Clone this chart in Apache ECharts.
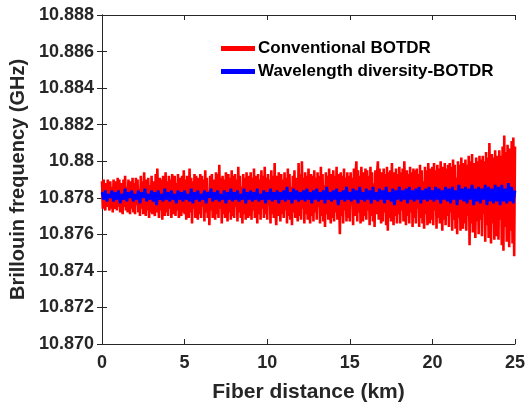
<!DOCTYPE html>
<html>
<head>
<meta charset="utf-8">
<script src="https://cdn.jsdelivr.net/npm/echarts@6/dist/echarts.min.js"></script>
<style>
html,body{margin:0;padding:0;background:#fff;}
#chart{width:528px;height:408px;}
</style>
</head>
<body>
<div id="chart"></div>
<script>
// Sampling grids (km)
const conventionalStep = 0.05;
const diversityStep = 0.1;
const seriesNames = ['Conventional BOTDR', 'Wavelength diversity-BOTDR'];
const xTickLabels = ['0', '5', '10', '15', '20', '25'];
const yTickLabels = ['10.870', '10.872', '10.874', '10.876', '10.878', '10.88', '10.882', '10.884', '10.886', '10.888'];

// Conventional BOTDR (GHz), one value per 0.05 km
const conventional = [
10.8789,10.8774,10.8790,10.8776,10.8773,10.8788,10.8775,10.8790,10.8779,10.8773,10.8789,10.8774,10.8786,10.8772,10.8790,10.8777,10.8774,10.8789,10.8773,10.8791,
10.8775,10.8790,10.8772,10.8788,10.8781,10.8771,10.8790,10.8775,10.8792,10.8773,10.8786,10.8772,10.8790,10.8778,10.8771,10.8789,10.8774,10.8791,10.8772,10.8788,
10.8771,10.8791,10.8776,10.8790,10.8772,10.8785,10.8770,10.8792,10.8774,10.8789,10.8771,10.8794,10.8779,10.8770,10.8790,10.8773,10.8791,10.8769,10.8787,10.8772,
10.8792,10.8771,10.8789,10.8775,10.8770,10.8793,10.8772,10.8796,10.8777,10.8769,10.8791,10.8773,10.8790,10.8768,10.8792,10.8782,10.8770,10.8794,10.8772,10.8789,
10.8770,10.8792,10.8774,10.8790,10.8769,10.8793,10.8779,10.8771,10.8792,10.8770,10.8788,10.8773,10.8793,10.8769,10.8791,10.8776,10.8770,10.8792,10.8772,10.8795,
10.8771,10.8790,10.8768,10.8792,10.8776,10.8769,10.8796,10.8772,10.8791,10.8766,10.8789,10.8774,10.8793,10.8769,10.8792,10.8780,10.8768,10.8791,10.8771,10.8793,
10.8769,10.8792,10.8775,10.8790,10.8767,10.8795,10.8772,10.8791,10.8769,10.8784,10.8765,10.8792,10.8773,10.8793,10.8769,10.8790,10.8776,10.8768,10.8794,10.8771,
10.8793,10.8769,10.8798,10.8774,10.8791,10.8766,10.8792,10.8771,10.8790,10.8769,10.8794,10.8779,10.8767,10.8793,10.8772,10.8791,10.8768,10.8795,10.8770,10.8792,
10.8769,10.8793,10.8775,10.8790,10.8767,10.8797,10.8772,10.8792,10.8769,10.8786,10.8766,10.8793,10.8771,10.8791,10.8768,10.8794,10.8777,10.8769,10.8792,10.8770,
10.8794,10.8768,10.8791,10.8773,10.8796,10.8769,10.8792,10.8782,10.8766,10.8793,10.8771,10.8790,10.8768,10.8795,10.8774,10.8792,10.8769,10.8797,10.8771,10.8791,
10.8768,10.8793,10.8776,10.8790,10.8766,10.8795,10.8771,10.8792,10.8769,10.8799,10.8773,10.8765,10.8792,10.8770,10.8794,10.8780,10.8767,10.8793,10.8771,10.8790,
10.8769,10.8794,10.8773,10.8791,10.8766,10.8796,10.8770,10.8793,10.8768,10.8786,10.8765,10.8792,10.8772,10.8795,10.8769,10.8791,10.8775,10.8767,10.8799,10.8770,
10.8793,10.8768,10.8800,10.8774,10.8791,10.8766,10.8794,10.8771,10.8792,10.8768,10.8796,10.8781,10.8766,10.8793,10.8770,10.8792,10.8767,10.8795,10.8772,10.8791,
10.8768,10.8794,10.8775,10.8792,10.8766,10.8797,10.8770,10.8793,10.8767,10.8787,10.8764,10.8794,10.8771,10.8792,10.8768,10.8796,10.8773,10.8766,10.8793,10.8769,
10.8795,10.8767,10.8792,10.8772,10.8797,10.8768,10.8793,10.8779,10.8760,10.8794,10.8770,10.8792,10.8766,10.8796,10.8773,10.8791,10.8767,10.8794,10.8769,10.8792,
10.8767,10.8794,10.8776,10.8791,10.8765,10.8796,10.8770,10.8793,10.8800,10.8767,10.8795,10.8772,10.8792,10.8766,10.8797,10.8781,10.8767,10.8794,10.8770,10.8796,
10.8768,10.8795,10.8773,10.8792,10.8765,10.8797,10.8770,10.8794,10.8767,10.8788,10.8764,10.8795,10.8771,10.8793,10.8800,10.8768,10.8796,10.8774,10.8766,10.8794,
10.8767,10.8796,10.8772,10.8793,10.8765,10.8797,10.8762,10.8794,10.8769,10.8795,10.8767,10.8799,10.8775,10.8765,10.8794,10.8770,10.8796,10.8766,10.8793,10.8771,
10.8797,10.8766,10.8794,10.8773,10.8796,10.8767,10.8800,10.8781,10.8765,10.8795,10.8770,10.8793,10.8766,10.8797,10.8772,10.8794,10.8764,10.8796,10.8769,10.8795,
10.8766,10.8796,10.8774,10.8793,10.8764,10.8798,10.8769,10.8795,10.8766,10.8789,10.8763,10.8797,10.8771,10.8795,10.8765,10.8799,10.8774,10.8766,10.8796,10.8768,
10.8797,10.8765,10.8799,10.8773,10.8795,10.8763,10.8798,10.8769,10.8796,10.8766,10.8800,10.8782,10.8762,10.8797,10.8768,10.8799,10.8765,10.8796,10.8770,10.8798,
10.8764,10.8799,10.8772,10.8797,10.8762,10.8801,10.8768,10.8798,10.8763,10.8791,10.8760,10.8800,10.8769,10.8798,10.8762,10.8802,10.8775,10.8763,10.8799,10.8766,
10.8801,10.8762,10.8798,10.8770,10.8803,10.8754,10.8800,10.8766,10.8804,10.8761,10.8799,10.8784,10.8758,10.8802,10.8767,10.8800,10.8760,10.8803,10.8768,10.8801,
10.8759,10.8803,10.8771,10.8800,10.8756,10.8805,10.8765,10.8802,10.8758,10.8810,10.8776,10.8755,10.8804,10.8766,10.8802,10.8757,10.8806,10.8770,10.8759,10.8803,
10.8757,10.8806,10.8768,10.8803,10.8754,10.8808,10.8751,10.8814,10.8764,10.8805,10.8756,10.8809,10.8786,10.8753,10.8807,10.8762,10.8811,10.8755,10.8813,10.8748,
10.8808
];

// Wavelength diversity-BOTDR (GHz), one value per 0.1 km
const diversity = [
10.8783,10.8779,10.8784,10.8778,10.8782,10.8780,10.8784,10.8778,10.8783,10.8779,
10.8784,10.8777,10.8782,10.8779,10.8785,10.8778,10.8783,10.8780,10.8784,10.8778,
10.8782,10.8779,10.8784,10.8777,10.8783,10.8780,10.8785,10.8778,10.8782,10.8779,
10.8784,10.8778,10.8783,10.8776,10.8784,10.8779,10.8782,10.8778,10.8785,10.8779,
10.8783,10.8778,10.8784,10.8779,10.8782,10.8777,10.8784,10.8779,10.8783,10.8778,
10.8784,10.8779,10.8782,10.8778,10.8785,10.8777,10.8783,10.8779,10.8784,10.8778,
10.8782,10.8779,10.8784,10.8777,10.8783,10.8780,10.8785,10.8778,10.8783,10.8779,
10.8784,10.8778,10.8782,10.8779,10.8784,10.8777,10.8783,10.8779,10.8785,10.8778,
10.8783,10.8779,10.8784,10.8778,10.8782,10.8779,10.8785,10.8777,10.8783,10.8779,
10.8784,10.8778,10.8783,10.8779,10.8785,10.8778,10.8782,10.8779,10.8784,10.8777,
10.8783,10.8779,10.8785,10.8778,10.8783,10.8779,10.8784,10.8777,10.8783,10.8779,
10.8784,10.8778,10.8786,10.8779,10.8783,10.8777,10.8785,10.8779,10.8784,10.8778,
10.8783,10.8779,10.8784,10.8778,10.8785,10.8779,10.8783,10.8777,10.8784,10.8779,
10.8785,10.8778,10.8783,10.8779,10.8784,10.8777,10.8786,10.8779,10.8783,10.8778,
10.8784,10.8779,10.8785,10.8776,10.8783,10.8779,10.8784,10.8778,10.8786,10.8779,
10.8783,10.8778,10.8785,10.8779,10.8784,10.8777,10.8786,10.8779,10.8783,10.8778,
10.8785,10.8779,10.8784,10.8777,10.8786,10.8779,10.8783,10.8778,10.8785,10.8779,
10.8784,10.8777,10.8786,10.8779,10.8783,10.8778,10.8785,10.8776,10.8784,10.8779,
10.8786,10.8778,10.8784,10.8779,10.8785,10.8777,10.8786,10.8779,10.8784,10.8778,
10.8785,10.8779,10.8786,10.8777,10.8784,10.8779,10.8785,10.8778,10.8786,10.8779,
10.8784,10.8778,10.8786,10.8779,10.8785,10.8777,10.8784,10.8779,10.8786,10.8778,
10.8785,10.8777,10.8786,10.8779,10.8784,10.8776,10.8787,10.8779,10.8785,10.8778,
10.8786,10.8777,10.8785,10.8779,10.8787,10.8776,10.8785,10.8778,10.8786,10.8777,
10.8785,10.8779,10.8787,10.8776,10.8786,10.8778,10.8785,10.8777,10.8787,10.8778,
10.8786,10.8776,10.8787,10.8778,10.8785,10.8777,10.8788,10.8778,10.8786,10.8777,
10.8784
];

const toPairs = (arr, step) => arr.map((v, i) => [Math.round(i * step * 100) / 100, v]);

const textColor = '#262626';
const fontFam = '"Liberation Sans", Arial, sans-serif';

const chart = echarts.init(document.getElementById('chart'), null, {renderer: 'canvas'});
const axisLineStyle = {lineStyle: {color: textColor, width: 1}};

chart.setOption({
  animation: false,
  backgroundColor: '#ffffff',
  grid: {left: 102, right: 11, top: 15, bottom: 62, containLabel: false},
  legend: {
    data: seriesNames,
    orient: 'vertical',
    left: 216,
    top: 35,
    itemWidth: 34,
    itemHeight: 5,
    itemGap: 6,
    icon: 'rect',
    textStyle: {fontFamily: fontFam, fontWeight: 'bold', fontSize: 17, color: '#000', lineHeight: 17, padding: [0,0,0,-2]}
  },
  xAxis: [{
    type: 'value', min: 0, max: 25, interval: 5,
    name: 'Fiber distance (km)', nameLocation: 'middle', nameGap: 38,
    nameTextStyle: {fontFamily: fontFam, fontWeight: 'bold', fontSize: 21, color: textColor},
    axisLine: axisLineStyle,
    axisTick: {inside: true, length: 5, lineStyle: {color: textColor}},
    axisLabel: {fontFamily: fontFam, fontWeight: 'bold', fontSize: 18, color: textColor, margin: 10,
      formatter: (v) => xTickLabels[Math.round(v / 5)]},
    splitLine: {show: false}
  }, {
    type: 'value', min: 0, max: 25, interval: 5, position: 'top',
    axisLine: axisLineStyle,
    axisTick: {inside: true, length: 5, lineStyle: {color: textColor}},
    axisLabel: {show: false}, splitLine: {show: false}
  }],
  yAxis: [{
    type: 'value', min: 10.870, max: 10.888, interval: 0.002,
    name: 'Brillouin frequency (GHz)', nameLocation: 'middle', nameGap: 74,
    nameTextStyle: {fontFamily: fontFam, fontWeight: 'bold', fontSize: 20, color: textColor},
    axisLine: {show: true, lineStyle: {color: textColor, width: 1}},
    axisTick: {inside: true, length: 5, lineStyle: {color: textColor}},
    axisLabel: {fontFamily: fontFam, fontWeight: 'bold', fontSize: 18, color: textColor, margin: 8,
      formatter: (v) => yTickLabels[Math.round((v - 10.870) / 0.002)]},
    splitLine: {show: false}
  }, {
    type: 'value', min: 10.870, max: 10.888, interval: 0.002, position: 'right',
    axisLine: {show: true, lineStyle: {color: textColor, width: 1}},
    axisTick: {inside: true, length: 5, lineStyle: {color: textColor}},
    axisLabel: {show: false}, splitLine: {show: false}
  }],
  series: [{
    name: seriesNames[0], type: 'line', xAxisIndex: 0, yAxisIndex: 0,
    data: toPairs(conventional, conventionalStep), showSymbol: false, symbol: 'none',
    lineStyle: {color: '#ff0000', width: 2.6}, itemStyle: {color: '#ff0000'}, z: 2
  }, {
    name: seriesNames[1], type: 'line', xAxisIndex: 0, yAxisIndex: 0,
    data: toPairs(diversity, diversityStep), showSymbol: false, symbol: 'none',
    lineStyle: {color: '#0000ff', width: 2.8}, itemStyle: {color: '#0000ff'}, z: 3
  }]
});
</script>
</body>
</html>
